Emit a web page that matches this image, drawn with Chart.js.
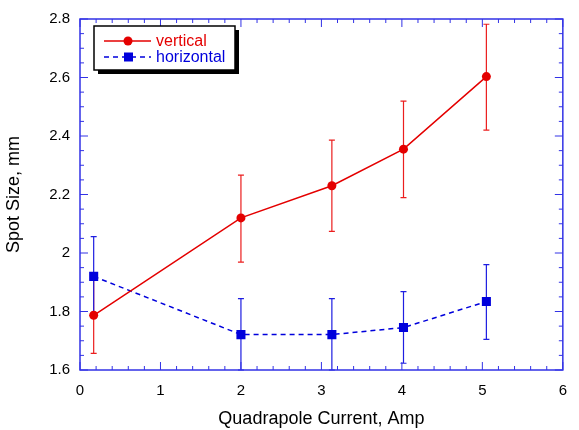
<!DOCTYPE html>
<html>
<head>
<meta charset="utf-8">
<script src="https://cdn.jsdelivr.net/npm/chart.js@4"></script>
<style>
  html, body { margin: 0; padding: 0; background: #fff; }
  #wrap { width: 579px; height: 430px; }
</style>
</head>
<body>
<div id="wrap"><canvas id="myChart"></canvas></div>
<script>
// data
const current = [0.17, 2.0, 3.13, 4.02, 5.05];
const vertical = [1.787, 2.12, 2.23, 2.355, 2.603];
const verticalLo = [1.657, 1.969, 2.074, 2.189, 2.42];
const verticalHi = [1.917, 2.266, 2.386, 2.519, 2.782];
const horizontal = [1.92, 1.721, 1.721, 1.745, 1.834];
const horizontalLo = [1.785, 1.6, 1.6, 1.623, 1.705];
const horizontalHi = [2.056, 1.844, 1.844, 1.868, 1.96];
const xTicks = [0, 1, 2, 3, 4, 5, 6];
const yTicks = [1.6, 1.8, 2.0, 2.2, 2.4, 2.6, 2.8];

const RED = 'rgb(228,0,0)';
const BLUE = 'rgb(0,0,220)';
const AXIS = 'rgb(50,50,230)';
const FONT = '"Liberation Sans", Arial, sans-serif';

// error bars, drawn under the markers
const errorBars = {
    id: 'errorBars',
    beforeDatasetsDraw(chart) {
        const ctx = chart.ctx;
        const x = chart.scales.x, y = chart.scales.y;
        chart.data.datasets.forEach(ds => {
            ctx.save();
            ctx.setLineDash([]);
            ctx.strokeStyle = ds.errColor;
            ctx.lineWidth = 1.2;
            ds.data.forEach((p, i) => {
                const px = x.getPixelForValue(p.x);
                const top = y.getPixelForValue(ds.hi[i]);
                const bot = y.getPixelForValue(ds.lo[i]);
                ctx.beginPath();
                ctx.moveTo(px, top); ctx.lineTo(px, bot);
                ctx.moveTo(px - 3, top); ctx.lineTo(px + 3, top);
                ctx.moveTo(px - 3, bot); ctx.lineTo(px + 3, bot);
                ctx.stroke();
            });
            ctx.restore();
        });
    }
};

// blue frame with inward ticks on all four sides
const frame = {
    id: 'frame',
    afterDatasetsDraw(chart) {
        const ctx = chart.ctx;
        const a = chart.chartArea;
        const x = chart.scales.x, y = chart.scales.y;
        ctx.save();
        ctx.strokeStyle = AXIS;
        ctx.lineWidth = 1;
        ctx.beginPath();
        for (let v = 0; v <= 6.001; v += 0.2) {
            const px = x.getPixelForValue(v);
            const len = Math.abs(v - Math.round(v)) < 0.01 ? 8 : 4;
            ctx.moveTo(px, a.bottom); ctx.lineTo(px, a.bottom - len);
            ctx.moveTo(px, a.top); ctx.lineTo(px, a.top + len);
        }
        for (let v = 1.6; v <= 2.801; v += 0.05) {
            const py = y.getPixelForValue(v);
            const k = Math.round(v * 100);
            const len = k % 20 === 0 ? 8 : 4;
            ctx.moveTo(a.left, py); ctx.lineTo(a.left + len, py);
            ctx.moveTo(a.right, py); ctx.lineTo(a.right - len, py);
        }
        ctx.stroke();
        ctx.lineWidth = 1.5;
        ctx.strokeRect(a.left, a.top, a.right - a.left, a.bottom - a.top);
        ctx.restore();
    }
};

// boxed legend with drop shadow
const boxLegend = {
    id: 'boxLegend',
    afterDraw(chart) {
        const ctx = chart.ctx;
        const bx = 94, by = 26, bw = 141, bh = 44;
        ctx.save();
        ctx.fillStyle = '#000';
        ctx.fillRect(bx + 4, by + 4, bw, bh);
        ctx.fillStyle = '#fff';
        ctx.fillRect(bx, by, bw, bh);
        ctx.strokeStyle = '#000';
        ctx.lineWidth = 1.5;
        ctx.strokeRect(bx, by, bw, bh);
        ctx.font = '16px ' + FONT;
        ctx.textBaseline = 'middle';
        chart.data.datasets.forEach((ds, i) => {
            const ly = by + 15 + i * 16;
            ctx.strokeStyle = ds.borderColor;
            ctx.lineWidth = 1.5;
            ctx.setLineDash(ds.borderDash || []);
            ctx.beginPath();
            ctx.moveTo(104, ly); ctx.lineTo(151, ly);
            ctx.stroke();
            ctx.setLineDash([]);
            ctx.fillStyle = ds.borderColor;
            if (ds.pointStyle === 'rect') {
                ctx.fillRect(124, ly - 4.5, 9, 9);
            } else {
                ctx.beginPath();
                ctx.arc(128, ly, 4.5, 0, Math.PI * 2);
                ctx.fill();
            }
            ctx.fillText(ds.label, 156, ly + 1);
        });
        ctx.restore();
    }
};

const data = {
    datasets: [{
        label: 'vertical',
        data: current.map((c, i) => ({x: c, y: vertical[i]})),
        lo: verticalLo,
        hi: verticalHi,
        errColor: 'rgb(235,30,30)',
        borderColor: RED,
        backgroundColor: RED,
        borderWidth: 1.5,
        pointStyle: 'circle',
        pointRadius: 4.5,
        pointBorderWidth: 0,
        showLine: true
    }, {
        label: 'horizontal',
        data: current.map((c, i) => ({x: c, y: horizontal[i]})),
        lo: horizontalLo,
        hi: horizontalHi,
        errColor: 'rgb(30,30,225)',
        borderColor: BLUE,
        backgroundColor: BLUE,
        borderWidth: 1.5,
        borderDash: [5, 4],
        pointStyle: 'rect',
        pointRadius: 6.4,
        pointBorderWidth: 0,
        showLine: true
    }]
};

const config = {
    type: 'scatter',
    data: data,
    options: {
        responsive: true,
        maintainAspectRatio: false,
        animation: false,
        layout: {
            padding: {top: 16, right: 7, left: 0, bottom: 0}
        },
        plugins: {
            legend: {display: false},
            tooltip: {enabled: false}
        },
        scales: {
            x: {
                type: 'linear',
                min: 0,
                max: 6,
                afterBuildTicks: s => { s.ticks = xTicks.map(v => ({value: v})); },
                afterFit: s => { s.height = 60; },
                grid: {display: false, drawTicks: false},
                border: {display: false},
                ticks: {
                    color: '#000',
                    padding: 12,
                    font: {family: FONT, size: 15},
                    callback: v => String(v)
                },
                title: {
                    display: true,
                    text: 'Quadrapole Current, Amp',
                    color: '#000',
                    font: {family: FONT, size: 18},
                    padding: 0
                }
            },
            y: {
                type: 'linear',
                min: 1.6,
                max: 2.8,
                afterBuildTicks: s => { s.ticks = yTicks.map(v => ({value: v})); },
                afterFit: s => { s.width = 80; },
                grid: {display: false, drawTicks: false},
                border: {display: false},
                ticks: {
                    color: '#000',
                    padding: 10,
                    font: {family: FONT, size: 15},
                    callback: v => String(Math.round(v * 10) / 10)
                },
                title: {
                    display: true,
                    text: 'Spot Size, mm',
                    color: '#000',
                    font: {family: FONT, size: 18},
                    padding: {top: 3, bottom: 0}
                }
            }
        }
    },
    plugins: [errorBars, frame, boxLegend]
};

const myChart = new Chart(
    document.getElementById('myChart'),
    config
);
</script>
</body>
</html>
